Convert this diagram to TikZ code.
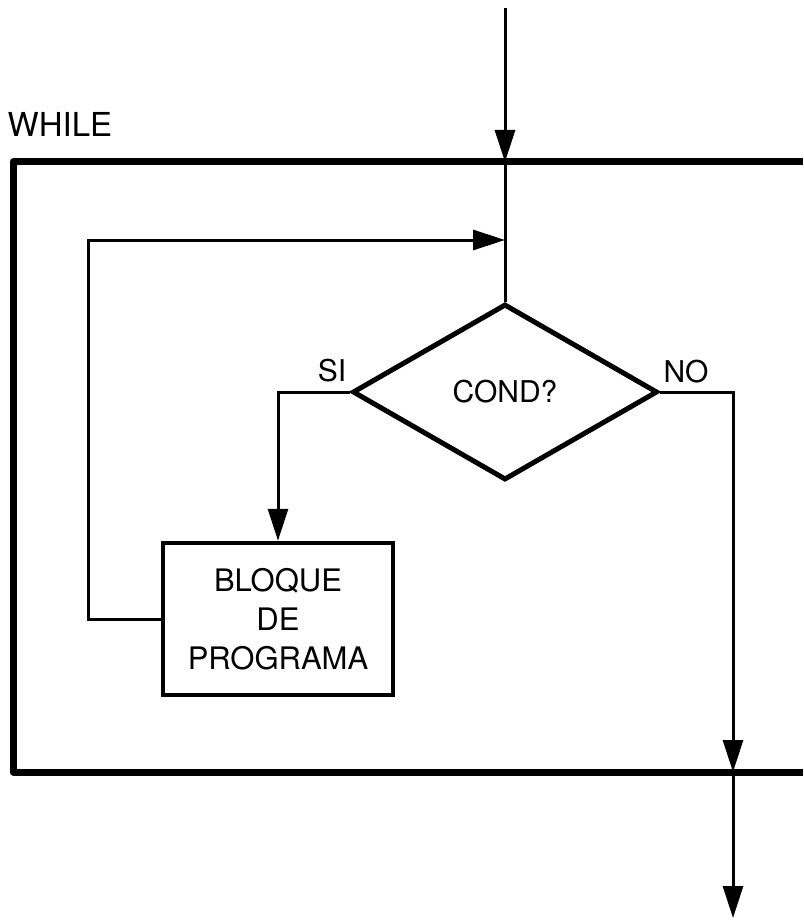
\documentclass[tikz,border=0pt]{standalone}
\usepackage{fontspec}
\setmainfont{TeX Gyre Heros}
\usetikzlibrary{shapes.geometric,arrows.meta}
\begin{document}
\begin{tikzpicture}[x=1pt,y=-1pt,
  lbl/.style={font=\fontsize{30}{38}\selectfont, inner sep=0pt},
  thinline/.style={line width=3pt},
  tip/.style={-{Triangle[width=20pt,length=32pt]}},
  frame/.style={line width=7pt},
  decision/.style={draw, diamond, line width=5pt, minimum width=305pt, minimum height=176pt, inner sep=0pt, font=\fontsize{30}{38}\selectfont},
  blockbox/.style={draw, rectangle, line width=4.5pt, minimum width=230pt, minimum height=152pt, align=center, inner sep=0pt, font=\fontsize{31}{39}\selectfont}
]
\useasboundingbox (0,0) rectangle (803,920);
\fill[white] (0,0) rectangle (803,920);

% outer WHILE frame
\coordinate (ftr) at (803,162);
\coordinate (ftl) at (13,162);
\coordinate (fbl) at (13,772);
\coordinate (fbr) at (803,772);
\draw[frame, line join=round] (ftr) -- (ftl) -- (fbl) -- (fbr);
\node[lbl, font=\fontsize{33}{40}\selectfont] (while) at (60,124) {WHILE};

% nodes
\coordinate (start) at (505,8);
\coordinate (entry) at (505,162);
\coordinate (loopin) at (505,240);
\node[decision] (cond) at (505,392) {COND?};
\node[blockbox] (blk) at (278,619) {BLOQUE\\DE\\PROGRAMA};
\coordinate (sicorner) at (278,392);
\coordinate (nocorner) at (733,392);
\coordinate (exit) at (733,772);
\coordinate (finish) at (733,918);
\coordinate (loopbl) at (88,619);
\coordinate (looptl) at (88,240);

% connectors
\draw[thinline, tip] (start) -- (entry);
\draw[thinline] (entry) -- (cond.north);
\draw[thinline, tip] (cond.west) -- (sicorner) -- (blk.north -| sicorner);
\draw[thinline, tip] (blk.west) -- (loopbl) -- (looptl) -- (loopin);
\draw[thinline, tip] (cond.east) -- (nocorner) -- (exit);
\draw[thinline, tip] (exit) -- (finish);

% labels
\node[lbl] (si) at (332,371) {SI};
\node[lbl] (no) at (686,372) {NO};
\end{tikzpicture}
\end{document}
